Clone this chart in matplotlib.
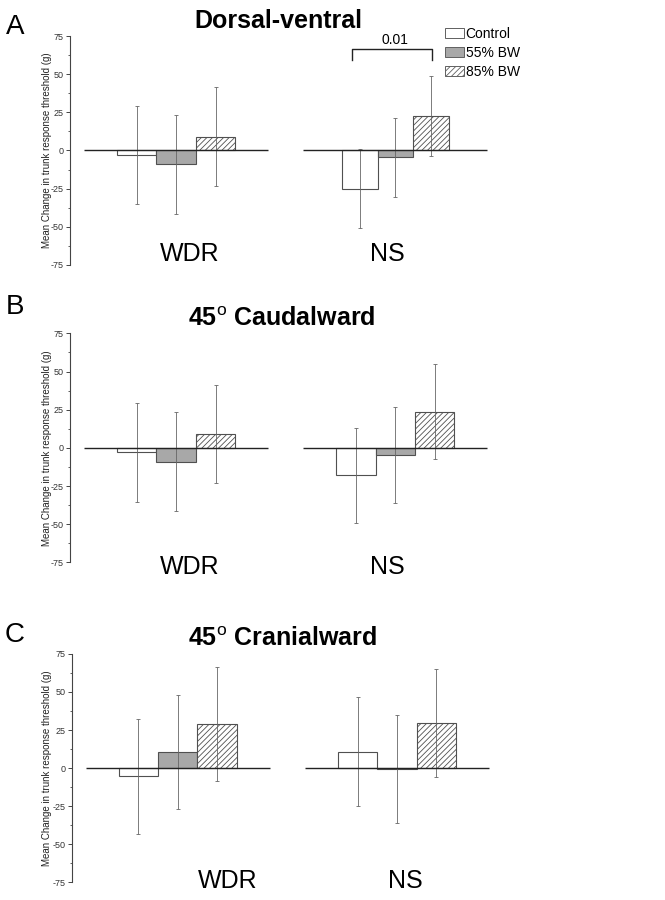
import matplotlib
matplotlib.use("Agg")
import matplotlib.pyplot as plt
from matplotlib.ticker import MultipleLocator, AutoMinorLocator
from matplotlib.patches import Patch

plt.rcParams["font.family"] = ["Liberation Sans", "DejaVu Sans"]
plt.rcParams["mathtext.fontset"] = "custom"
plt.rcParams["mathtext.rm"] = "Liberation Sans"
plt.rcParams["hatch.linewidth"] = 0.6

# ── data ─────────────────────────────────────────────────────────────────────
groups = ["WDR", "NS"]
conditions = ["Control", "55% BW", "85% BW"]

dv_mean = [[-3, -9, 9], [-25, -4.5, 22.5]]
dv_err = [[32.3, 32.4, 32.4], [26, 26, 26]]

caud_mean = [[-3, -9, 9], [-18, -4.7, 23.7]]
caud_err = [[32.3, 32.3, 32.3], [31.2, 31.3, 31.3]]

cran_mean = [[-5.5, 10.7, 28.7], [10.8, -0.7, 29.7]]
cran_err = [[37.5, 37.5, 37.4], [35.7, 35.5, 35.6]]

yticks = [75, 50, 25, 0, -25, -50, -75]
sig_label = "0.01"

# ── styles ───────────────────────────────────────────────────────────────────
FACES = ["white", "#a8a8a8", "white"]
EDGES = ["#505050", "#505050", "#505050"]
HATCH = [None, None, "//////"]

panels = [
    # letter, title, means, errs, axes rect, bar widths per group, label pos
    ("A", "Dorsal-ventral", dv_mean, dv_err,
     [0.1053, 0.7056, 0.647, 0.2544], [0.18, 0.162], [(0.064, -68), (0.963, -68)],
     (0.418, 0.9767), 0.970),
    ("B", r"45$^{\rm o}$ Caudalward", caud_mean, caud_err,
     [0.1053, 0.3752, 0.647, 0.2544], [0.18, 0.18], [(0.064, -78), (0.963, -78)],
     (0.424, 0.645), 0.659),
    ("C", r"45$^{\rm o}$ Cranialward", cran_mean, cran_err,
     [0.1078, 0.0197, 0.647, 0.2537], [0.18, 0.18], [(0.228, -74), (1.037, -74)],
     (0.424, 0.290), 0.2944),
]

fig = plt.figure(figsize=(6.65, 9), dpi=100)

for letter, title, means, errs, rect, widths, lab_pos, tpos, ly in panels:
    ax = fig.add_axes(rect)
    ax.set_xlim(-0.484, 1.479)
    ax.set_ylim(-75, 75)
    for g, gname in enumerate(groups):
        w = widths[g]
        for c in range(3):
            x = g + (c - 1) * w
            ax.bar(x, means[g][c], w, color=FACES[c], edgecolor=EDGES[c],
                   hatch=HATCH[c], linewidth=0.8, zorder=2)
            ax.errorbar(x, means[g][c], yerr=errs[g][c], fmt="none",
                        ecolor="#666666", elinewidth=0.6, capsize=1.5,
                        capthick=0.6, zorder=3)
        ax.hlines(0, g - 0.42, g + 0.42, color="#222222", linewidth=1.0, zorder=4)
        ax.text(lab_pos[g][0], lab_pos[g][1], gname, ha="center", va="center",
                fontsize=18, clip_on=False)

    for s in ["top", "right", "bottom"]:
        ax.spines[s].set_visible(False)
    ax.spines["left"].set_color("#444444")
    ax.spines["left"].set_linewidth(0.8)
    ax.set_xticks([])
    ax.yaxis.set_major_locator(MultipleLocator(25))
    ax.yaxis.set_minor_locator(AutoMinorLocator(2))
    ax.set_yticks(yticks)
    ax.set_yticklabels([str(t) for t in yticks])
    ax.tick_params(axis="y", which="major", labelsize=6.5, length=3,
                   width=0.7, color="#444444", labelcolor="#333333", pad=1.5)
    ax.tick_params(axis="y", which="minor", length=1.8, width=0.6, color="#444444")
    ax.patch.set_visible(False)

    fig.text(0.0707, rect[1] + rect[3] / 2,
             "Mean Change in trunk response threshold (g)",
             rotation=90, ha="center", va="center", fontsize=7, color="#222222")
    fig.text(tpos[0], tpos[1], title, ha="center", va="center",
             fontsize=18, fontweight="bold")
    fig.text(0.0226, ly, letter, ha="center", va="center", fontsize=20)

    if letter == "A":
        w = widths[1]
        x0, x1 = 1 - w - 0.035, 1 + w + 0.005
        ax.plot([x0, x0, x1, x1], [59, 66.8, 66.8, 59], color="#222222",
                linewidth=1.0, clip_on=False)
        ax.text(1.0, 72.5, sig_label, ha="center", va="center", fontsize=10,
                clip_on=False)
        handles = [Patch(facecolor=FACES[c], edgecolor="#606060", hatch=HATCH[c],
                         linewidth=0.7, label=conditions[c]) for c in range(3)]
        fig.legend(handles=handles, loc="upper left",
                   bbox_to_anchor=(0.669, 0.970), frameon=False, fontsize=10,
                   handlelength=1.35, handleheight=0.75, handletextpad=0.15,
                   labelspacing=0.35, borderaxespad=0, borderpad=0)

fig.savefig("out.png", dpi=100)
